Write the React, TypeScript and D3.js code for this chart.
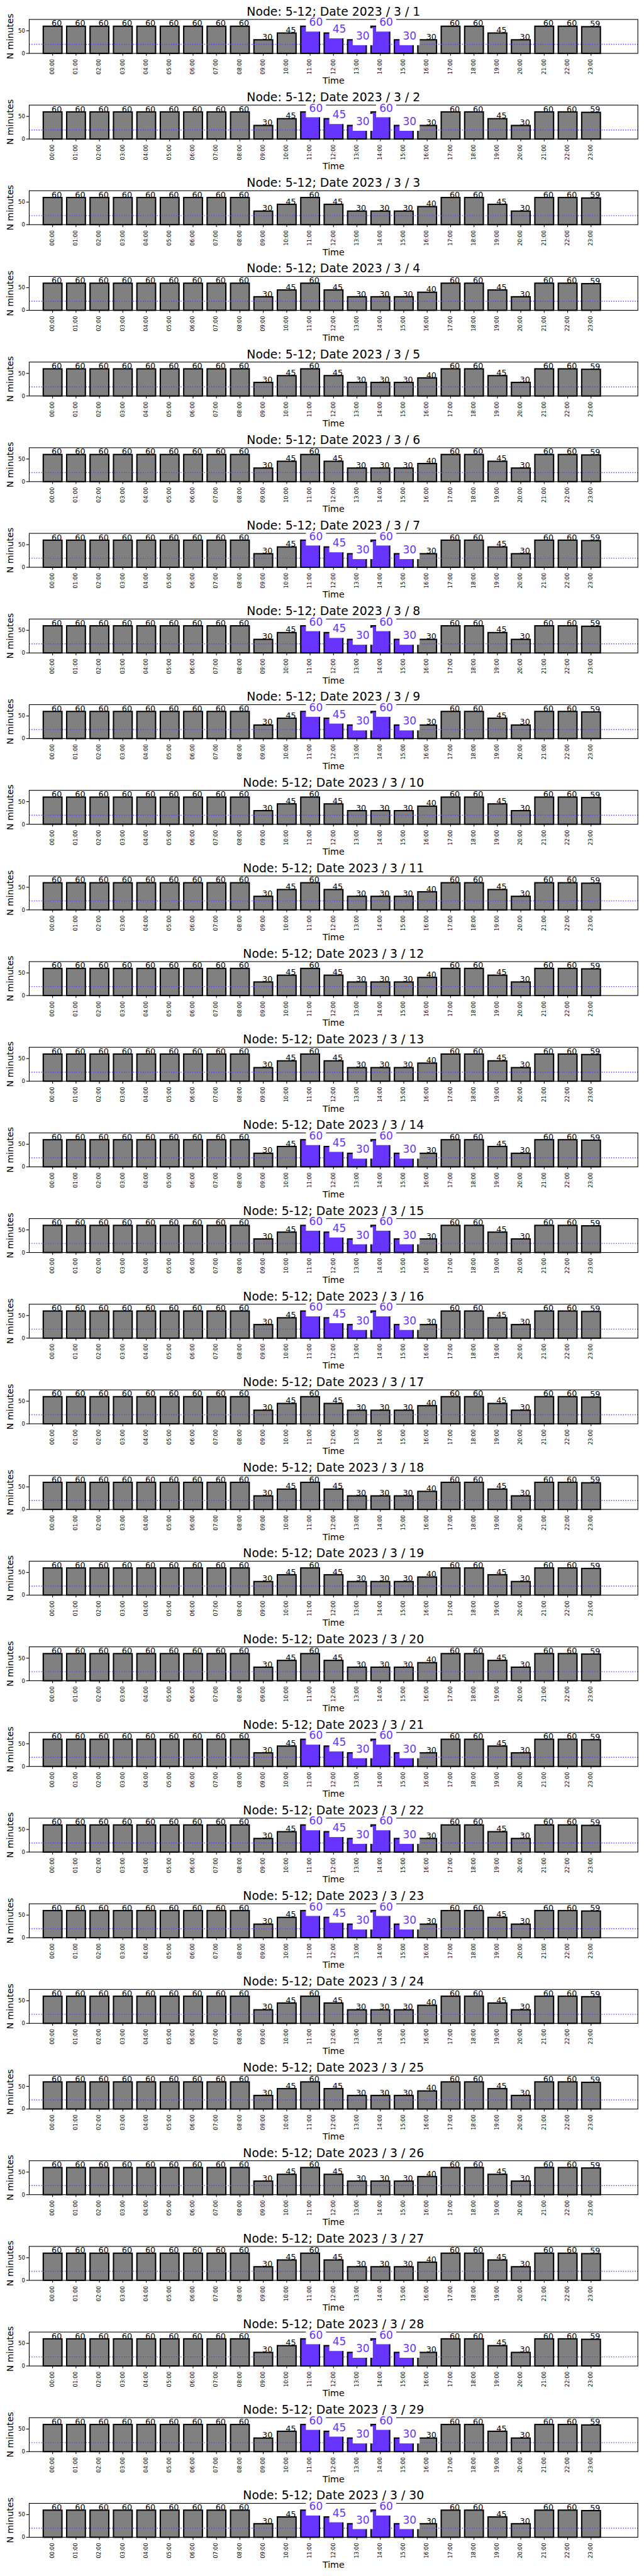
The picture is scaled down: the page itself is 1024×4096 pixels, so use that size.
import React from "react";
import * as d3 from "d3";

// tick labels for the hourly bars
const HOURS = [
  "00:00", "01:00", "02:00", "03:00", "04:00", "05:00", "06:00", "07:00",
  "08:00", "09:00", "10:00", "11:00", "12:00", "13:00", "14:00", "15:00",
  "16:00", "17:00", "18:00", "19:00", "20:00", "21:00", "22:00", "23:00",
];

// minutes per hour on an ordinary day
const REGULAR_DAY = [60, 60, 60, 60, 60, 60, 60, 60, 60, 30, 45, 60, 45, 30, 30, 30, 40, 60, 60, 45, 30, 60, 60, 59];
// minutes per hour on a flagged day (11:00-15:00 highlighted)
const FLAGGED_DAY = [60, 60, 60, 60, 60, 60, 60, 60, 60, 30, 45, 60, 45, 30, 60, 30, 30, 60, 60, 45, 30, 60, 60, 59];
const FLAGGED_HOURS = ["11:00", "12:00", "13:00", "14:00", "15:00"];

const DAYS = [1, 2, 3, 4, 5, 6, 7, 8, 9, 10, 11, 12, 13, 14, 15, 16, 17, 18, 19, 20, 21, 22, 23, 24, 25, 26, 27, 28, 29, 30];
const FLAGGED_DAYS = [1, 2, 7, 8, 9, 14, 15, 16, 21, 22, 23, 28, 29, 30];

const Y_TICKS = [0, 50];
const THRESHOLD = 20;
const NODE = "5-12";
const YEAR = 2023;
const MONTH = 3;

// layout, in reference pixels (the svg viewBox scales it down)
const FIG_W = 1500;
const FIG_H = 6000;
const PANEL_STEP = 199.5;
const AX_LEFT = 68;
const AX_RIGHT = 1485.7;
const AX_TOP0 = 45.3;
const AX_H = 79;

const FONT = "'DejaVu Sans', sans-serif";
const PURPLE = "#6633ff";
const GREY = "#808080";

const Panel = ({ day, top }: { day: number; top: number }) => {
  const flagged = FLAGGED_DAYS.includes(day);
  const values = flagged ? FLAGGED_DAY : REGULAR_DAY;
  const bottom = top + AX_H;

  const x = d3.scaleLinear().domain([-1, 25]).range([AX_LEFT, AX_RIGHT]);
  const y = d3.scaleLinear().domain([0, 75]).range([bottom, top]);
  const bw = x(0.8) - x(0);
  const midX = (AX_LEFT + AX_RIGHT) / 2;

  const isPurple = (h: string) => flagged && FLAGGED_HOURS.includes(h);

  return (
    <g>
      {/* bars */}
      {values.map((v, i) => (
        <rect
          key={"b" + i}
          x={x(i) - bw / 2}
          y={y(v)}
          width={bw}
          height={y(0) - y(v)}
          fill={isPurple(HOURS[i]) ? PURPLE : GREY}
          stroke="#000"
          strokeWidth={3}
        />
      ))}

      {/* threshold line */}
      <line
        x1={AX_LEFT}
        x2={AX_RIGHT}
        y1={y(THRESHOLD)}
        y2={y(THRESHOLD)}
        stroke={PURPLE}
        strokeWidth={2.08}
        strokeDasharray="2.08 3.43"
      />

      {/* spines */}
      <rect x={AX_LEFT} y={top} width={AX_RIGHT - AX_LEFT} height={AX_H} fill="none" stroke="#000" strokeWidth={1.6} />

      {/* y axis */}
      {Y_TICKS.map((t) => (
        <g key={"y" + t}>
          <line x1={AX_LEFT - 7} x2={AX_LEFT} y1={y(t)} y2={y(t)} stroke="#000" strokeWidth={1.6} />
          <text x={58.5} y={y(t) + 4.4} textAnchor="end" fontSize={12.5} fontFamily={FONT}>
            {t}
          </text>
        </g>
      ))}

      {/* x axis */}
      {HOURS.map((h, i) => (
        <g key={"x" + i}>
          <line x1={x(i)} x2={x(i)} y1={bottom} y2={bottom + 5.5} stroke="#000" strokeWidth={1.6} />
          <text
            transform={`translate(${x(i) + 3.3},${bottom + 13}) rotate(-90)`}
            textAnchor="end"
            fontSize={12.5}
            fontFamily={FONT}
          >
            {h}
          </text>
        </g>
      ))}

      {/* value labels */}
      {values.map((v, i) => {
        const label = String(v);
        const ax = x(i) - 2.3;
        const base = y(v) - 0.5;
        if (!isPurple(HOURS[i])) {
          return (
            <text key={"l" + i} x={ax} y={base} fontSize={18.75} fontFamily={FONT} fill="#000">
              {label}
            </text>
          );
        }
        const fs = 25;
        const pad = 0.3 * fs;
        const tw = label.length * 0.636 * fs;
        return (
          <g key={"l" + i}>
            <rect
              x={ax - pad}
              y={base - 0.76 * fs - pad}
              width={tw + 2 * pad}
              height={0.98 * fs + 2 * pad}
              fill="#fff"
            />
            <text x={ax} y={base} fontSize={fs} fontFamily={FONT} fill={PURPLE}>
              {label}
            </text>
          </g>
        );
      })}

      {/* titles */}
      <text x={midX} y={top - 8.8} textAnchor="middle" fontSize={27.6} fontFamily={FONT}>
        {`Node: ${NODE}; Date ${YEAR} / ${MONTH} / ${day}`}
      </text>
      <text
        transform={`translate(30.7,${(top + bottom) / 2}) rotate(-90)`}
        textAnchor="middle"
        fontSize={20.8}
        fontFamily={FONT}
      >
        N minutes
      </text>
      <text x={midX} y={top + 149.9} textAnchor="middle" fontSize={20.8} fontFamily={FONT}>
        Time
      </text>
    </g>
  );
};

export default function App() {
  const width = 1024;
  const height = 4096;
  return (
    <div style={{ position: "absolute", left: 0, top: 0 }}>
      <svg width={width} height={height} viewBox={`0 0 ${FIG_W} ${FIG_H}`} style={{ display: "block" }}>
        <rect x={0} y={0} width={FIG_W} height={FIG_H} fill="#fff" />
        {DAYS.map((d, k) => (
          <Panel key={d} day={d} top={AX_TOP0 + k * PANEL_STEP} />
        ))}
      </svg>
    </div>
  );
}
